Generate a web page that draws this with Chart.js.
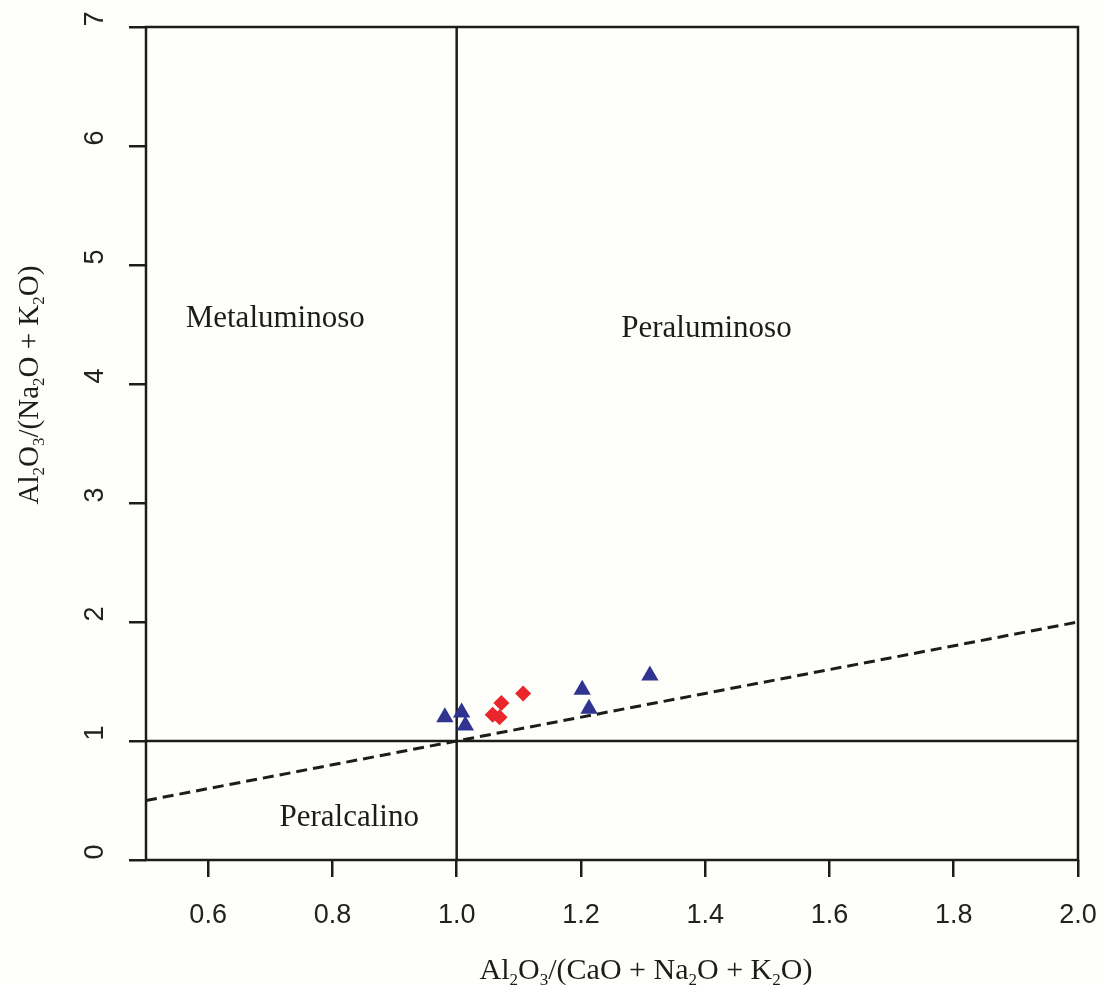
<!DOCTYPE html>
<html>
<head>
<meta charset="utf-8">
<script src="https://cdn.jsdelivr.net/npm/chart.js@4/dist/chart.umd.min.js"></script>
<style>
  body { margin: 0; background: #fefefa; }
</style>
</head>
<body>
<canvas id="chart" width="1100" height="985"></canvas>
<script>
// Ejes
const xTicks = [0.6, 0.8, 1.0, 1.2, 1.4, 1.6, 1.8, 2.0];
const yTicks = [0, 1, 2, 3, 4, 5, 6, 7];

// Muestras (triángulos azules)
const triX = [0.981, 1.008, 1.014, 1.202, 1.213, 1.311];
const triY = [1.20, 1.24, 1.13, 1.43, 1.27, 1.55];

// Muestras (rombos rojos)
const diaX = [1.107, 1.072, 1.058, 1.069];
const diaY = [1.40, 1.32, 1.22, 1.20];

// Límites de campo
const vLineX = [1, 1];
const vLineY = [0, 7];
const hLineX = [0.5, 2.0];
const hLineY = [1, 1];
const dashX = [0.5, 2.0];
const dashY = [0.5, 2.0];

// Nombres de campo (centro x, línea base y)
const fieldNames = ["Metaluminoso", "Peraluminoso", "Peralcalino"];
const fieldX = [0.708, 1.402, 0.827];
const fieldY = [4.48, 4.395, 0.286];

const toPts = (xs, ys) => xs.map((x, i) => ({ x: x, y: ys[i] }));

const INK = "#1c1c1c";
const SERIF = '"Liberation Serif", "Times New Roman", serif';
const SANS = '"Liberation Sans", Arial, sans-serif';

// Texto con subíndices: [texto, esSubindice]
function drawRich(ctx, parts, size) {
    const small = Math.round(size * 0.58);
    let w = 0;
    parts.forEach(([t, sub]) => {
        ctx.font = (sub ? small : size) + "px " + SERIF;
        w += ctx.measureText(t).width;
    });
    let x = -w / 2;
    ctx.textAlign = "left";
    ctx.textBaseline = "alphabetic";
    parts.forEach(([t, sub]) => {
        ctx.font = (sub ? small : size) + "px " + SERIF;
        ctx.fillText(t, x, sub ? 6 : 0);
        x += ctx.measureText(t).width;
    });
}

const xTitle = [["Al", 0], ["2", 1], ["O", 0], ["3", 1], ["/(CaO + Na", 0], ["2", 1], ["O + K", 0], ["2", 1], ["O)", 0]];
const yTitle = [["Al", 0], ["2", 1], ["O", 0], ["3", 1], ["/(Na", 0], ["2", 1], ["O + K", 0], ["2", 1], ["O)", 0]];

const decor = {
    id: "decor",
    beforeDraw(chart) {
        const ctx = chart.ctx;
        ctx.save();
        ctx.fillStyle = "#fefefa";
        ctx.fillRect(0, 0, chart.width, chart.height);
        ctx.restore();
    },
    afterDraw(chart) {
        const ctx = chart.ctx;
        const a = chart.chartArea;
        const xs = chart.scales.x;
        const ys = chart.scales.y;
        ctx.save();

        // marco
        ctx.strokeStyle = INK;
        ctx.lineWidth = 2.5;
        ctx.strokeRect(a.left, a.top, a.right - a.left, a.bottom - a.top);

        // etiquetas del eje y (giradas)
        ctx.fillStyle = "#222";
        ctx.font = "27px " + SANS;
        ctx.textAlign = "center";
        ctx.textBaseline = "middle";
        yTicks.forEach(v => {
            ctx.save();
            ctx.translate(96, ys.getPixelForValue(v) - 8);
            ctx.rotate(-Math.PI / 2);
            ctx.fillText(String(v), 0, 0);
            ctx.restore();
        });

        // nombres de campo
        ctx.fillStyle = INK;
        ctx.font = "31px " + SERIF;
        ctx.textAlign = "center";
        ctx.textBaseline = "alphabetic";
        fieldNames.forEach((n, i) => {
            ctx.fillText(n, xs.getPixelForValue(fieldX[i]), ys.getPixelForValue(fieldY[i]));
        });

        // títulos de ejes
        ctx.save();
        ctx.translate(646, 979);
        drawRich(ctx, xTitle, 30);
        ctx.restore();

        ctx.save();
        ctx.translate(38, 385);
        ctx.rotate(-Math.PI / 2);
        drawRich(ctx, yTitle, 29);
        ctx.restore();

        ctx.restore();
    }
};

new Chart(document.getElementById("chart"), {
    type: "scatter",
    data: {
        datasets: [
            {
                label: "Triángulos",
                data: toPts(triX, triY),
                pointStyle: "triangle",
                pointRadius: 10,
                pointBackgroundColor: "#30338f",
                pointBorderColor: "#30338f",
                pointBorderWidth: 0,
                order: 1
            },
            {
                label: "Rombos",
                data: toPts(diaX, diaY),
                pointStyle: "rectRot",
                pointRadius: 8,
                pointBackgroundColor: "#e8262b",
                pointBorderColor: "#e8262b",
                pointBorderWidth: 0,
                order: 2
            },
            {
                label: "x = 1",
                data: toPts(vLineX, vLineY),
                showLine: true,
                borderColor: INK,
                borderWidth: 2.5,
                pointRadius: 0,
                order: 3
            },
            {
                label: "y = 1",
                data: toPts(hLineX, hLineY),
                showLine: true,
                borderColor: INK,
                borderWidth: 2.5,
                pointRadius: 0,
                order: 4
            },
            {
                label: "Límite",
                data: toPts(dashX, dashY),
                showLine: true,
                borderColor: INK,
                borderWidth: 3,
                borderDash: [11, 6],
                pointRadius: 0,
                order: 5
            }
        ]
    },
    options: {
        responsive: false,
        animation: false,
        layout: { padding: { top: 27, right: 22, bottom: 0, left: 0 } },
        plugins: {
            legend: { display: false },
            tooltip: { enabled: false }
        },
        scales: {
            x: {
                type: "linear",
                min: 0.5,
                max: 2.0,
                afterBuildTicks: s => { s.ticks = xTicks.map(v => ({ value: v })); },
                afterFit: s => { s.height = 125; s.paddingLeft = 0; s.paddingRight = 0; },
                border: { display: false },
                grid: { drawOnChartArea: false, drawTicks: true, tickLength: 17, color: INK, lineWidth: 2.5 },
                ticks: {
                    color: "#222",
                    font: { family: SANS, size: 27 },
                    padding: 22,
                    maxRotation: 0,
                    callback: v => Number(v).toFixed(1)
                }
            },
            y: {
                type: "linear",
                min: 0,
                max: 7,
                afterBuildTicks: s => { s.ticks = yTicks.map(v => ({ value: v })); },
                afterFit: s => { s.width = 146; s.paddingTop = 0; s.paddingBottom = 0; },
                border: { display: false },
                grid: { drawOnChartArea: false, drawTicks: true, tickLength: 17, color: INK, lineWidth: 2.5 },
                ticks: { display: false }
            }
        }
    },
    plugins: [decor]
});
</script>
</body>
</html>
